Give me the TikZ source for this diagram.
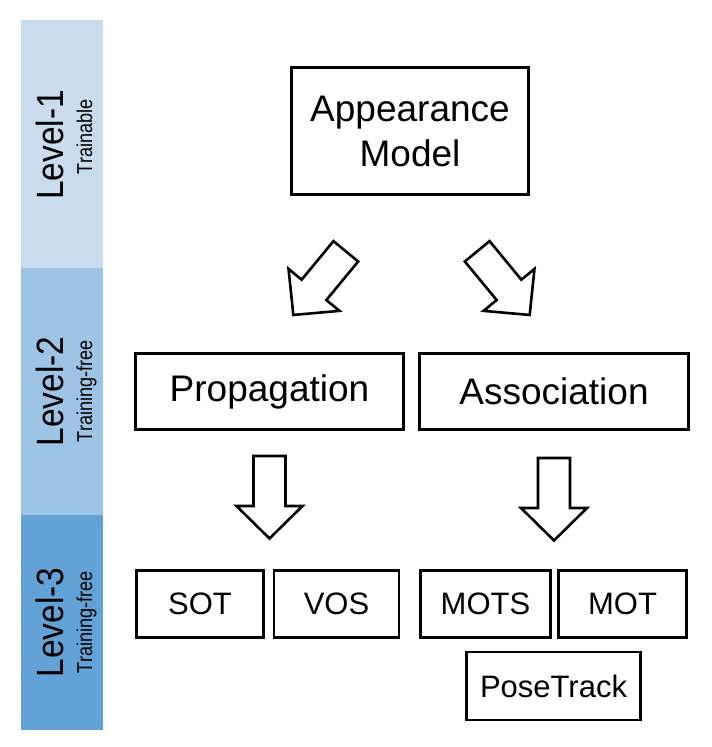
\documentclass[tikz,border=0pt]{standalone}
\usepackage{fontspec}
\setmainfont{Liberation Sans}
\newfontfamily\barbig{Liberation Sans}[FakeStretch=0.88]
\newfontfamily\barsmall{Liberation Sans}[FakeStretch=0.84]
\definecolor{lvlone}{HTML}{C9DCEE}
\definecolor{lvltwo}{HTML}{9DC3E5}
\definecolor{lvlthree}{HTML}{62A2D7}
\begin{document}
\begin{tikzpicture}[x=1bp,y=-1bp,
  box/.style={draw, line width=2.6bp, inner sep=0pt, align=center},
  bigtext/.style={font=\fontsize{37bp}{45bp}\selectfont},
  smalltext/.style={font=\fontsize{31bp}{36bp}\selectfont},
  lvlname/.style={rotate=90, anchor=base, inner sep=0pt, font=\barbig\fontsize{38bp}{40bp}\selectfont},
  lvlsub/.style={rotate=90, anchor=base, inner sep=0pt, font=\barsmall\fontsize{21.5bp}{24bp}\selectfont},
  blockarrow/.pic={\draw[line width=2.6bp, fill=white, line join=miter]
     (-16,0) -- (16,0) -- (16,50) -- (33,50) -- (0,82.5) -- (-33,50) -- (-16,50) -- cycle;}
]
\useasboundingbox (0,0) rectangle (712,747);
% level bar
\fill[lvlone] (21,20) rectangle (103,268);
\fill[lvltwo] (21,268) rectangle (103,515);
\fill[lvlthree] (21,515) rectangle (103,730);
\node[lvlname] (l1) at (63,145) {Level-1};
\node[lvlsub] (l1s) at (92,137) {Trainable};
\node[lvlname] (l2) at (63,391.5) {Level-2};
\node[lvlsub] (l2s) at (92,391.5) {Training-free};
\node[lvlname] (l3) at (63,622.5) {Level-3};
\node[lvlsub] (l3s) at (92,622.5) {Training-free};
% boxes
\node[box, bigtext, minimum width=237bp, minimum height=127bp] (app) at (410,131) {\raisebox{-2bp}{Appearance}\\\raisebox{-2bp}{Model}};
\node[box, bigtext, minimum width=268bp, minimum height=76bp] (prop) at (269.5,391.5) {Propagation};
\node[box, bigtext, minimum width=269bp, minimum height=76bp] (assoc) at (554,391.5) {Association};
\node[box, smalltext, minimum width=127bp, minimum height=67bp] (sot) at (200,604) {SOT};
\node[box, smalltext, minimum width=125bp, minimum height=67bp] (vos) at (336.5,604) {VOS};
\node[box, smalltext, minimum width=130bp, minimum height=67bp] (mots) at (485.5,604) {MOTS};
\node[box, smalltext, minimum width=128bp, minimum height=67bp] (mot) at (622.5,604) {MOT};
\node[box, smalltext, minimum width=174bp, minimum height=68bp] (pose) at (553.5,686) {PoseTrack};
% block arrows
\coordinate (atl) at (345.8,251.3);
\coordinate (atr) at (477.2,251.3);
\coordinate (dtl) at (prop.south |- 0,456);
\coordinate (dtr) at (assoc.south |- 0,458);
\pic[rotate=-39.5] at (atl) {blockarrow};
\pic[rotate=39.5] at (atr) {blockarrow};
\pic at (dtl) {blockarrow};
\pic at (dtr) {blockarrow};
\end{tikzpicture}
\end{document}
